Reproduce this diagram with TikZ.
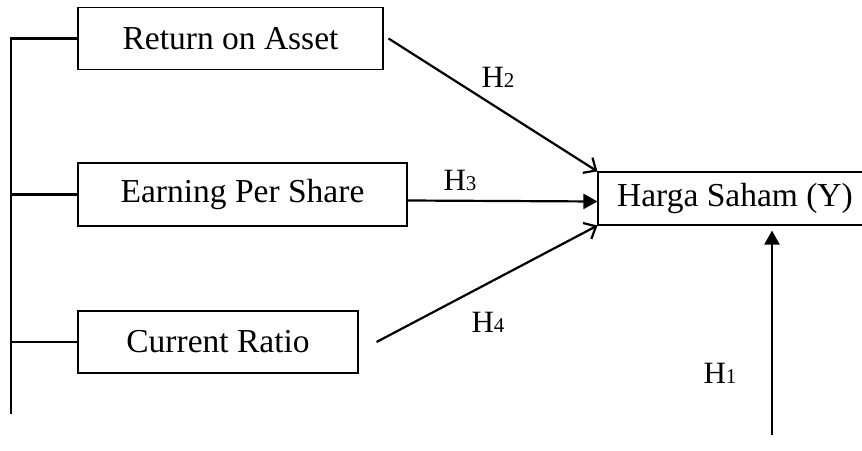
\documentclass[tikz,border=0pt]{standalone}
\usepackage{fontspec}
\setmainfont{Liberation Serif}
\usetikzlibrary{arrows.meta}

\begin{document}
\begin{tikzpicture}[x=1pt,y=-1pt,
  varbox/.style={draw, line width=1.1pt, inner sep=0pt, minimum height=62pt,
    font=\fontsize{33.5}{36}\selectfont},
  link/.style={line width=2.2pt},
  openarrow/.style={link, -{Straight Barb[length=10pt,width=18pt]}},
  solidarrow/.style={link, -{Triangle[length=14pt,width=15pt]}},
  hlabel/.style={font=\fontsize{31}{33}\selectfont}]
  \useasboundingbox (0,0) rectangle (862,450);

  % Variabel independen
  \node[varbox, minimum width=305pt] (roa) at (230.5,38.5) {Return on Asset};
  \node[varbox, minimum width=329pt, minimum height=63pt] (eps) at (242.5,194.5) {Earning Per Share};
  \node[varbox, minimum width=280pt] (cr) at (218,342) {Current Ratio};

  % Variabel dependen
  \node[varbox, minimum width=274pt, minimum height=53pt] (harga) at (735,198.5) {Harga Saham (Y)};

  % Garis simultan
  \coordinate (railend) at (11,414);
  \draw[link] (roa.west) -| (railend);
  \draw[link] (eps.west) -- (eps.west -| railend);
  \draw[link] (cr.west) -- (cr.west -| railend);

  % Hipotesis parsial
  \draw[openarrow] ([xshift=5pt]roa.east) -- (harga.north west);
  \draw[solidarrow] ([yshift=-6pt]eps.east) -- ([yshift=-3pt]harga.west);
  \draw[openarrow] ([xshift=18pt]cr.east) -- (harga.south west);
  \coordinate (h1base) at (772,435);
  \draw[solidarrow, shorten >=5pt] (h1base) -- (h1base |- harga.south);

  % Label hipotesis
  \node[hlabel] (h2) at (498,77) {H{\fontsize{21}{22}\selectfont 2}};
  \node[hlabel] (h3) at (460,180) {H{\fontsize{21}{22}\selectfont 3}};
  \node[hlabel] (h4) at (488,322) {H{\fontsize{21}{22}\selectfont 4}};
  \node[hlabel] (h1) at (720,373) {H{\fontsize{21}{22}\selectfont 1}};
\end{tikzpicture}
\end{document}
